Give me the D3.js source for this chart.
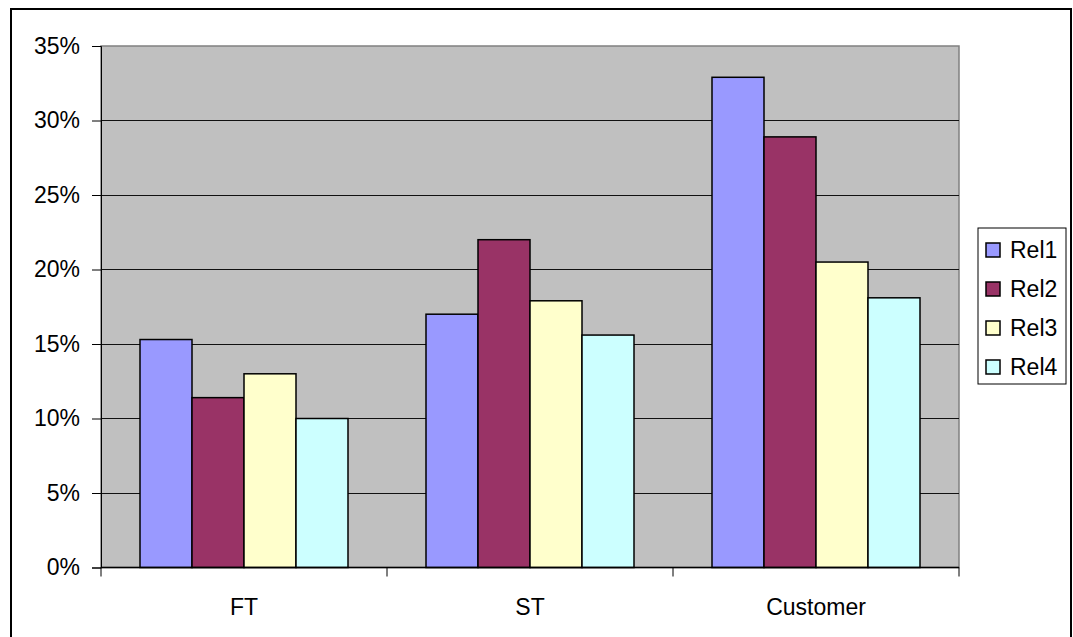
<!DOCTYPE html>
<html><head><meta charset="utf-8">
<script src="https://cdn.jsdelivr.net/npm/d3@7"></script>
<style>body{margin:0;background:#fff;}svg{display:block;font-family:"Liberation Sans",Arial,sans-serif;}</style>
</head><body>
<svg id="c" width="1073" height="637"></svg>
<script>
const categories = ["FT", "ST", "Customer"];
const seriesNames = ["Rel1", "Rel2", "Rel3", "Rel4"];
const rel1 = [0.153, 0.170, 0.329];
const rel2 = [0.114, 0.220, 0.289];
const rel3 = [0.130, 0.179, 0.205];
const rel4 = [0.100, 0.156, 0.181];
const yTicks = [0, 0.05, 0.10, 0.15, 0.20, 0.25, 0.30, 0.35];
const colors = ["#9999FF", "#993366", "#FFFFCC", "#CCFFFF"];

const seriesValues = [rel1, rel2, rel3, rel4];
const svg = d3.select("#c");
const L = 101, R = 959, T = 46, B = 567.5;

// outer border
svg.append("rect").attr("x", 11).attr("y", 9).attr("width", 1060).attr("height", 640)
  .attr("fill", "#fff").attr("stroke", "#000").attr("stroke-width", 2);

const x = d3.scaleBand().domain(categories).range([L, R]).padding(0);
// each group = 4 bars + 1.5 bar gap (Excel gap width 150%)
const barW = x.bandwidth() / 5.5;
const x2 = d3.scaleBand().domain(seriesNames).range([0.75 * barW, 4.75 * barW]).padding(0);
const y = d3.scaleLinear().domain([0, 0.35]).range([B, T]);

// plot area
svg.append("rect").attr("x", L).attr("y", T).attr("width", R - L).attr("height", B - T)
  .attr("fill", "#C0C0C0").attr("stroke", "#808080").attr("stroke-width", 1.5);

// gridlines
svg.append("g").selectAll("line").data(yTicks.filter(d => d > 0 && d < 0.35)).join("line")
  .attr("x1", L).attr("x2", R).attr("y1", d => Math.round(y(d)) + 0.5).attr("y2", d => Math.round(y(d)) + 0.5)
  .attr("stroke", "#111").attr("stroke-width", 1);

// bars
const g = svg.append("g");
categories.forEach((c, ci) => {
  seriesNames.forEach((s, si) => {
    const v = seriesValues[si][ci];
    g.append("rect")
      .attr("x", x(c) + x2(s)).attr("y", y(v))
      .attr("width", x2.bandwidth()).attr("height", y(0) - y(v))
      .attr("fill", colors[si]).attr("stroke", "#000").attr("stroke-width", 1.5);
  });
});

// y axis
const yAxis = d3.axisLeft(y).tickValues(yTicks).tickFormat(d3.format(".0%")).tickSize(9).tickPadding(12);
const ya = svg.append("g").attr("transform", `translate(${L},0)`).call(yAxis);
ya.select(".domain").attr("stroke", "#000").attr("stroke-width", 1);
ya.selectAll(".tick line").attr("stroke", "#000");
ya.selectAll("text").attr("font-size", 23).attr("fill", "#000").attr("font-family", "Liberation Sans, Arial, sans-serif");

// x axis
const xa = svg.append("g").attr("transform", `translate(0,${B})`);
xa.append("line").attr("x1", L).attr("x2", R).attr("y1", 0).attr("y2", 0).attr("stroke", "#000").attr("stroke-width", 1.5);
const edges = categories.map(c => x(c)).concat([R]);
xa.selectAll(".tk").data(edges).join("line").attr("class", "tk")
  .attr("x1", d => d).attr("x2", d => d).attr("y1", 0).attr("y2", 9).attr("stroke", "#000");
xa.selectAll(".lb").data(categories).join("text").attr("class", "lb")
  .attr("x", d => x(d) + x.bandwidth() / 2).attr("y", 47)
  .attr("text-anchor", "middle").attr("font-size", 23).attr("fill", "#000").text(d => d);

// legend
const lg = svg.append("g");
lg.append("rect").attr("x", 978).attr("y", 228).attr("width", 88).attr("height", 156)
  .attr("fill", "#fff").attr("stroke", "#000").attr("stroke-width", 1);
seriesNames.forEach((s, i) => {
  const cy = 250 + i * 39;
  lg.append("rect").attr("x", 986).attr("y", cy - 7).attr("width", 14).attr("height", 14)
    .attr("fill", colors[i]).attr("stroke", "#000").attr("stroke-width", 1.5);
  lg.append("text").attr("x", 1010).attr("y", cy + 8).attr("font-size", 23).attr("fill", "#000").text(s);
});
</script>
</body></html>
